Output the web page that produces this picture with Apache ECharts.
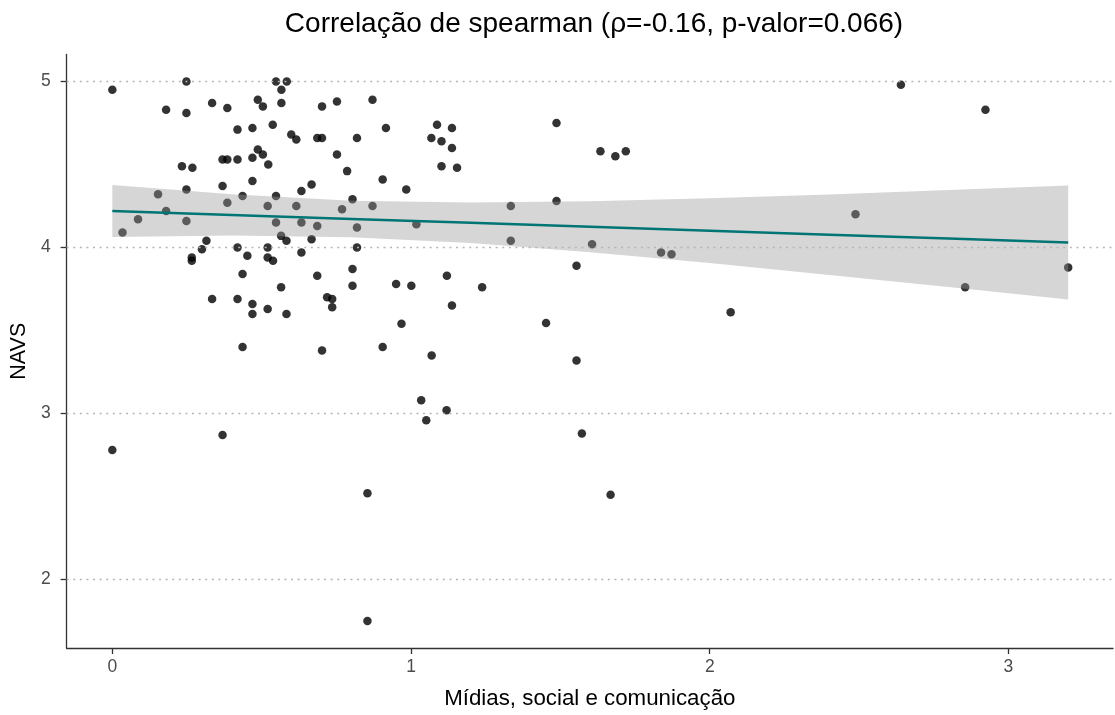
<!DOCTYPE html>
<html>
<head>
<meta charset="utf-8">
<title>Correlação de spearman</title>
<script src="https://cdn.jsdelivr.net/npm/echarts@6/dist/echarts.min.js"></script>
<style>
  html, body { margin: 0; padding: 0; background: #ffffff; }
  #chart { width: 1115px; height: 715px; }
</style>
</head>
<body>
<div id="chart"></div>
<script>
// Mídias, social e comunicação (x) vs NAVS (y), one entry per respondent
const midias = [
  0, 0.248, 0.18, 0.248, 0.334, 0.385, 0.419, 0.469, 0.369, 0.385,
  0.419, 0.469, 0.233, 0.268, 0.369, 0.469, 0.248, 0.436, 0.153, 0.385,
  0.18, 0.086, 0.248, 0.034, 0.315, 0.30, 0.266, 0.266, 0.419, 0.452,
  0.436, 0.334, 0.419, 0.469, 0.469, 0.436, 0, 0.369, 0.702, 0.905,
  1.069, 1.034, 1.119, 1.051, 0.854, 0.854, 0.548, 0.584, 0.566, 0.487,
  0.504, 0.566, 0.702, 0.752, 0.871, 0.537, 0.599, 0.616, 0.686, 0.702,
  0.819, 0.916, 1.087, 1.137, 1.068, 1.102, 1.137, 1.102, 1.154, 0.487,
  0.504, 0.522, 0.752, 0.786, 0.905, 0.984, 0.548, 0.633, 0.667, 0.804,
  0.52, 0.616, 0.769, 0.871, 0.548, 0.633, 0.686, 0.819, 1.018, 0.565,
  0.583, 0.667, 0.52, 0.633, 0.819, 0.52, 0.538, 0.686, 0.804, 0.804,
  0.565, 0.95, 1.001, 1.12, 0.719, 0.736, 0.736, 0.52, 0.583, 1.137,
  0.968, 1.487, 1.634, 1.684, 1.719, 1.334, 1.487, 1.334, 1.606, 1.837,
  1.872, 1.554, 1.238, 1.452, 2.07, 1.554, 1.572, 1.668, 2.64, 2.923,
  2.488, 3.2, 2.855
];
const navs = [
  4.95, 5.00, 4.83, 4.81, 4.87, 4.84, 4.71, 4.72, 4.53, 4.53,
  4.53, 4.54, 4.49, 4.48, 4.37, 4.40, 4.35, 4.31, 4.32, 4.27,
  4.22, 4.17, 4.16, 4.09, 4.04, 3.99, 3.94, 3.92, 4.00, 3.95,
  3.84, 3.69, 3.69, 3.66, 3.60, 3.40, 2.78, 2.87, 3.38, 3.40,
  3.35, 3.08, 3.02, 2.96, 2.52, 1.75, 5.00, 5.00, 4.95, 4.89,
  4.85, 4.87, 4.85, 4.88, 4.89, 4.74, 4.68, 4.65, 4.66, 4.66,
  4.66, 4.72, 4.74, 4.72, 4.66, 4.64, 4.60, 4.49, 4.48, 4.59,
  4.56, 4.50, 4.56, 4.46, 4.41, 4.35, 4.31, 4.34, 4.38, 4.29,
  4.25, 4.25, 4.23, 4.25, 4.15, 4.15, 4.13, 4.12, 4.14, 4.07,
  4.04, 4.05, 4.00, 3.97, 4.00, 3.94, 3.92, 3.83, 3.87, 3.77,
  3.76, 3.78, 3.77, 3.83, 3.70, 3.69, 3.64, 3.63, 3.60, 3.65,
  3.54, 4.75, 4.58, 4.55, 4.58, 4.25, 4.28, 4.04, 4.02, 3.97,
  3.96, 3.89, 3.76, 3.545, 3.61, 3.32, 2.88, 2.51, 4.98, 4.83,
  4.20, 3.88, 3.76
];

// Fitted trend line and its confidence band, sampled along x
const fitX  = [0,     0.4,   0.8,   1.2,   1.6,   2.0,   2.4,   2.8,   3.2];
const fitY  = [4.220, 4.196, 4.172, 4.149, 4.125, 4.101, 4.077, 4.054, 4.030];
const fitLo = [4.063, 4.072, 4.062, 4.027, 3.972, 3.906, 3.835, 3.762, 3.687];
const fitHi = [4.377, 4.320, 4.282, 4.271, 4.278, 4.296, 4.319, 4.346, 4.373];

const xTicks = [0, 1, 2, 3];
const yTicks = [2, 3, 4, 5];

const titleText = 'Correlação de spearman (ρ=-0.16, p-valor=0.066)';
const xName = 'Mídias, social e comunicação';
const yName = 'NAVS';

const points = midias.map((x, i) => [x, navs[i]]);
const fitLine = fitX.map((x, i) => [x, fitY[i]]);
const fitBand = fitX.map((x, i) => [x, fitLo[i], fitHi[i]]);

const chart = echarts.init(document.getElementById('chart'), null, { renderer: 'canvas' });

const fontFamily = 'Liberation Sans, Arial, sans-serif';

chart.setOption({
  animation: false,
  backgroundColor: '#ffffff',
  title: {
    text: titleText,
    left: 589,
    top: 5,
    textAlign: 'center',
    textStyle: { fontFamily: fontFamily, fontSize: 28, fontWeight: 'normal', color: '#000000' }
  },
  grid: { left: 65, right: 2, top: 54.5, bottom: 67, containLabel: false },
  xAxis: {
    type: 'value',
    min: -0.153,
    max: 3.35,
    name: xName,
    nameLocation: 'middle',
    nameGap: 40,
    nameTextStyle: { fontFamily: fontFamily, fontSize: 22.3, color: '#000000' },
    axisLine: { show: true, onZero: false, lineStyle: { color: '#333333', width: 1.3 } },
    axisTick: { show: true, length: 6, customValues: xTicks, lineStyle: { color: '#333333', width: 1.3 } },
    axisLabel: { customValues: xTicks, margin: 10, fontFamily: fontFamily, fontSize: 17.5, color: '#4d4d4d' },
    splitLine: { show: false }
  },
  yAxis: {
    type: 'value',
    min: 1.5875,
    max: 5.1625,
    name: yName,
    nameLocation: 'middle',
    nameGap: 35,
    nameRotate: 90,
    nameTextStyle: { fontFamily: fontFamily, fontSize: 21.5, color: '#000000' },
    axisLine: { show: true, onZero: false, lineStyle: { color: '#333333', width: 1.3 } },
    axisTick: { show: true, length: 6, customValues: yTicks, lineStyle: { color: '#333333', width: 1.3 } },
    axisLabel: { customValues: yTicks, margin: 16, fontFamily: fontFamily, fontSize: 17.5, color: '#4d4d4d' },
    splitLine: { show: false }
  },
  series: [
    {
      // dotted horizontal reference lines at the y ticks
      type: 'line',
      data: [],
      z: 0,
      silent: true,
      markLine: {
        silent: true,
        symbol: 'none',
        label: { show: false },
        lineStyle: { color: '#b5b5b5', type: [2, 4.6], width: 1.4 },
        data: yTicks.map(v => ({ yAxis: v }))
      }
    },
    {
      type: 'scatter',
      data: points,
      symbol: 'circle',
      symbolSize: 8.5,
      itemStyle: { color: '#000000' },
      z: 2
    },
    {
      // confidence band, drawn over the points as a translucent polygon
      type: 'custom',
      data: fitBand,
      z: 3,
      silent: true,
      clip: true,
      renderItem: function (params, api) {
        if (params.dataIndex !== 0) return null;
        const upper = fitBand.map(r => api.coord([r[0], r[2]]));
        const lower = fitBand.map(r => api.coord([r[0], r[1]])).reverse();
        return {
          type: 'polygon',
          shape: { points: upper.concat(lower) },
          style: { fill: 'rgba(153,153,153,0.4)', stroke: null }
        };
      }
    },
    {
      type: 'line',
      data: fitLine,
      showSymbol: false,
      symbol: 'none',
      z: 4,
      silent: true,
      lineStyle: { color: '#007575', width: 2.6 }
    }
  ]
});
</script>
</body>
</html>
